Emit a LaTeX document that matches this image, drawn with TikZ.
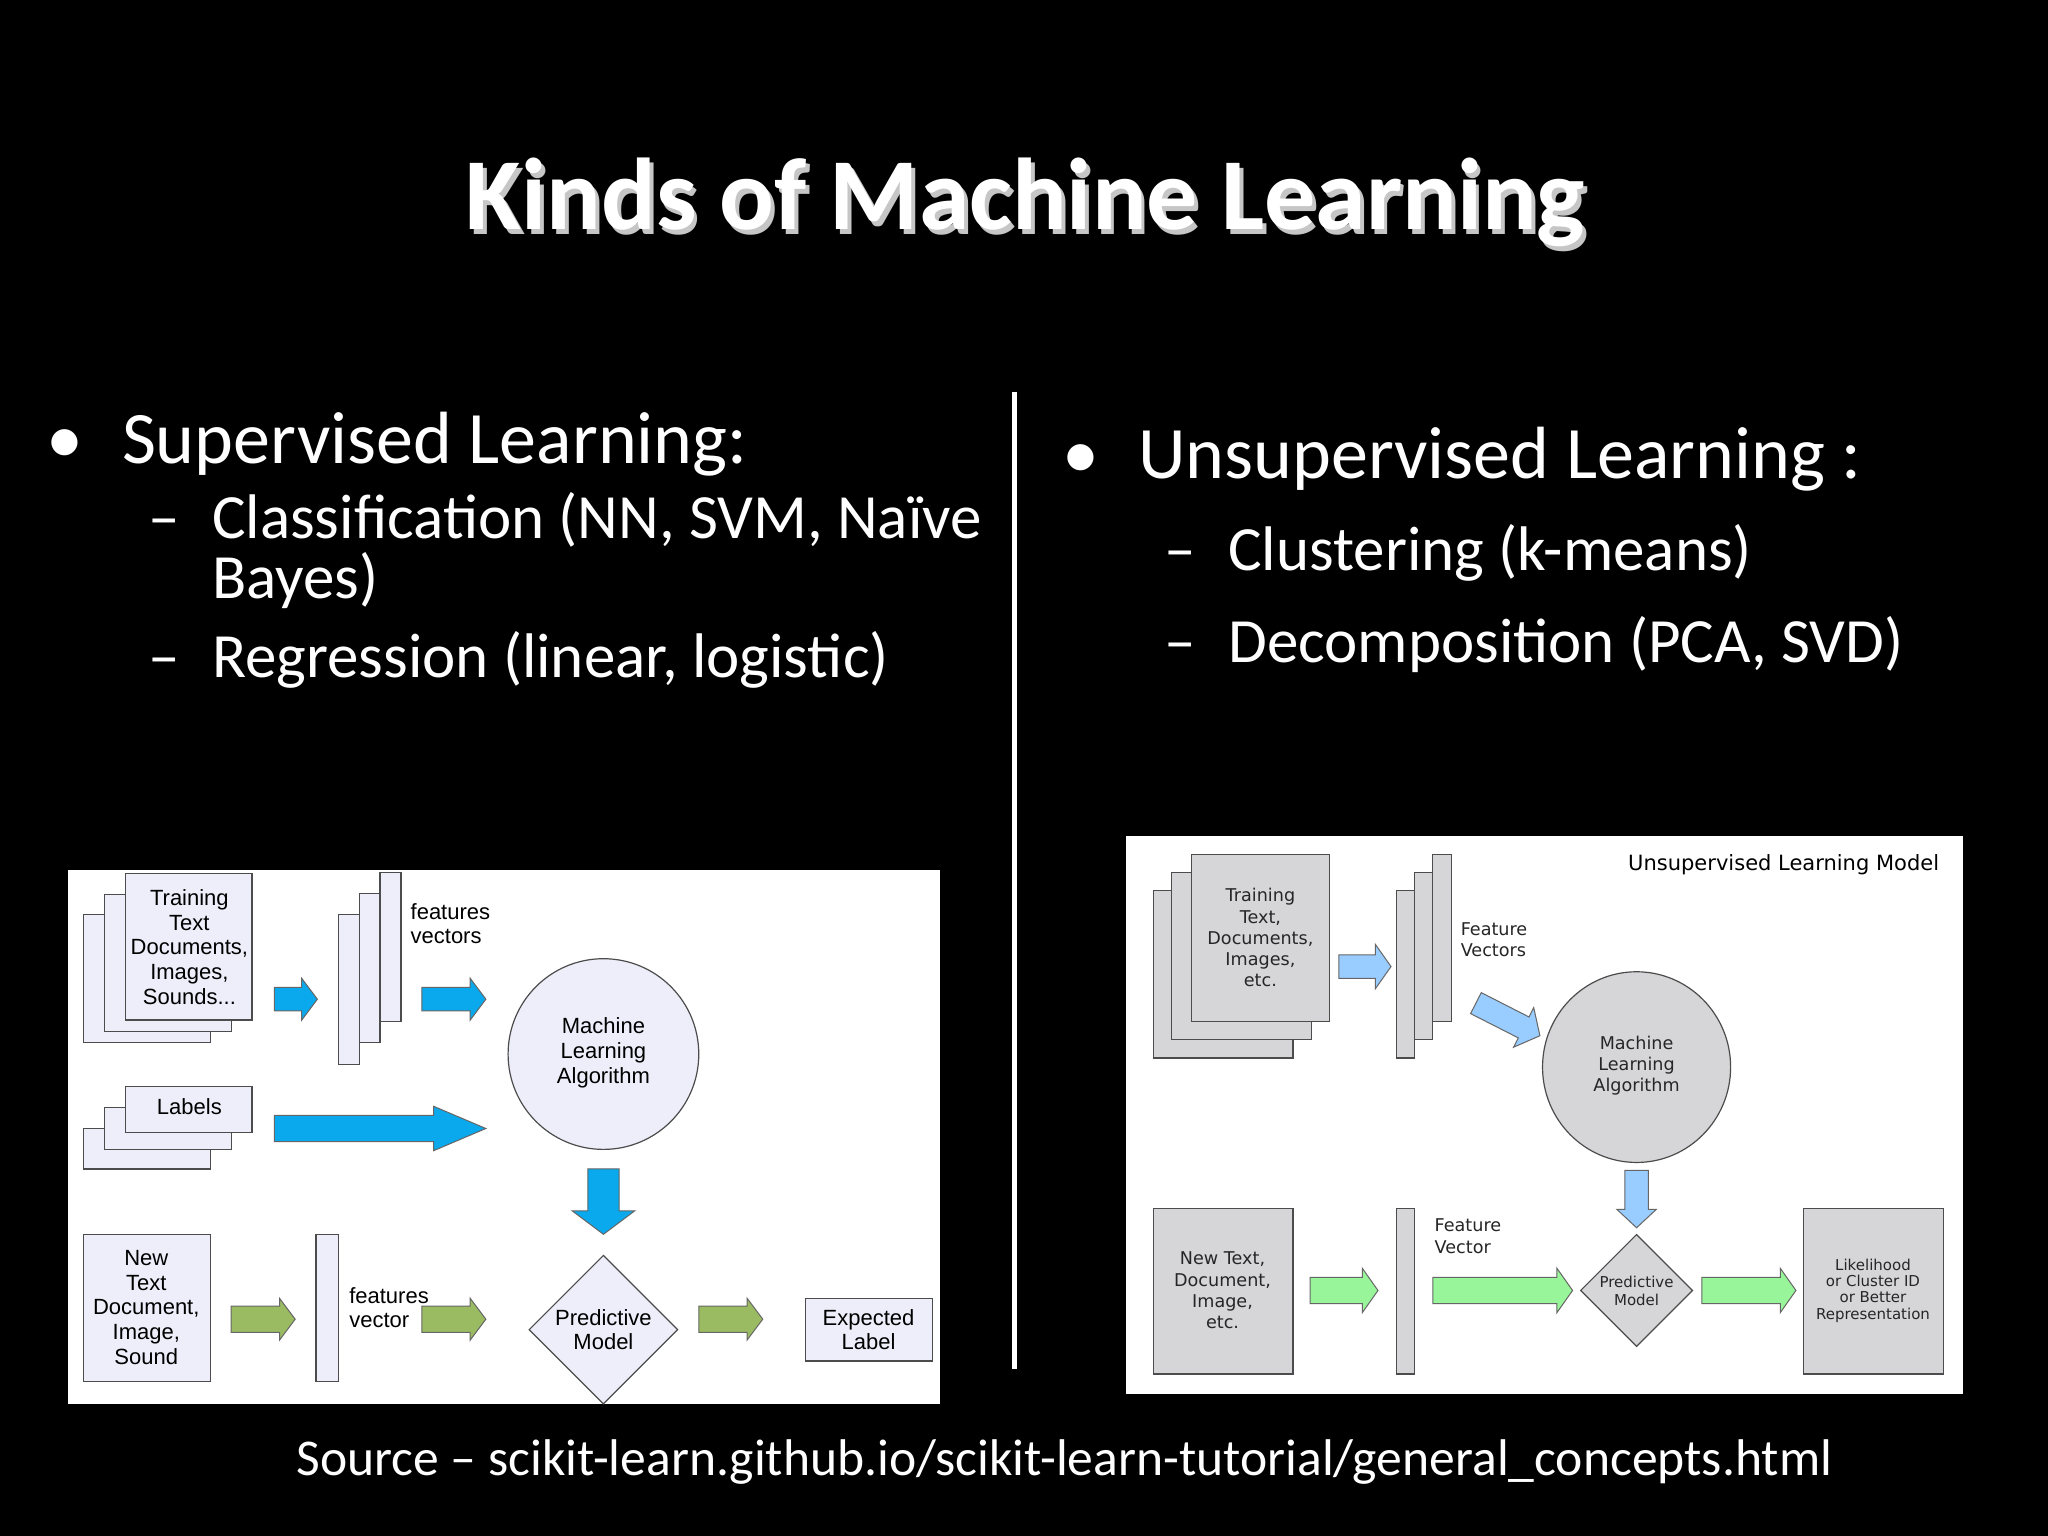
\documentclass[tikz,border=0pt]{standalone}
\usepackage{fontspec}
\setmainfont{Carlito}
\newfontfamily\arialf{Liberation Sans}
\newfontfamily\dejaf{DejaVu Sans}
\usetikzlibrary{shapes.geometric}
\definecolor{lav}{HTML}{EEEEFA}
\definecolor{bblue}{HTML}{0AA8EC}
\definecolor{bgreen}{HTML}{9BBB63}
\definecolor{lgray}{HTML}{D6D6D8}
\definecolor{lblue}{HTML}{99CCFF}
\definecolor{lgreen}{HTML}{99F599}
\newcommand\myharrow[7]{\filldraw[fill=#1,draw=black!60,line width=0.5pt] (#2,#4-#5) -- (#3-#7,#4-#5) -- (#3-#7,#4-#6) -- (#3,#4) -- (#3-#7,#4+#6) -- (#3-#7,#4+#5) -- (#2,#4+#5) -- cycle;}
\newcommand\myvarrow[7]{\filldraw[fill=#1,draw=black!60,line width=0.5pt] (#4-#5,#2) -- (#4-#5,#3-#7) -- (#4-#6,#3-#7) -- (#4,#3) -- (#4+#6,#3-#7) -- (#4+#5,#3-#7) -- (#4+#5,#2) -- cycle;}
\tikzset{
 lbox/.style={fill=lav,draw=black!70,line width=0.6pt},
 rbox/.style={fill=lgray,draw=black!70,line width=0.6pt},
 ltxt/.style={font=\arialf\fontsize{11}{12.3}\selectfont,align=center,text=black},
 rtxt/.style={font=\dejaf\fontsize{8.8}{10.6}\selectfont,align=center,text=black!85},
 slide/.style={text=white,anchor=base west}
}
\begin{document}
\begin{tikzpicture}[x=0.653pt,y=-0.653pt]
\fill[black] (0,0) rectangle (1568,1176);
\useasboundingbox (0,0) rectangle (1568,1176);
% title
\node[text=gray!45,font=\bfseries\fontsize{51}{55}\selectfont] (titles) at (788,159) {Kinds of Machine Learning};
\node[text=white,font=\bfseries\fontsize{51}{55}\selectfont] (title) at (785,155) {Kinds of Machine Learning};
% left text
\node[slide,font=\fontsize{37}{40}\selectfont] (b1) at (30,355) {•};
\node[slide,font=\fontsize{37}{40}\selectfont] (t1) at (88,355) {Supervised Learning:};
\node[slide,font=\fontsize{31.5}{36}\selectfont] (d1) at (108,412) {–};
\node[slide,font=\fontsize{31.5}{36}\selectfont] (t2) at (157,412) {Classification (NN, SVM, Naïve};
\node[slide,font=\fontsize{31.5}{36}\selectfont] (t3) at (157,458) {Bayes)};
\node[slide,font=\fontsize{31.5}{36}\selectfont] (d2) at (108,519) {–};
\node[slide,font=\fontsize{31.5}{36}\selectfont] (t4) at (157,519) {Regression (linear, logistic)};
\fill[white] (775,300) rectangle (779,1048);
% right text
\node[slide,font=\fontsize{37}{40}\selectfont] (b2) at (808,366) {•};
\node[slide,font=\fontsize{37}{40}\selectfont] (u1) at (866,366) {Unsupervised Learning :};
\node[slide,font=\fontsize{31.5}{36}\selectfont] (d3) at (886,437) {–};
\node[slide,font=\fontsize{31.5}{36}\selectfont] (u2) at (935,437) {Clustering (k-means)};
\node[slide,font=\fontsize{31.5}{36}\selectfont] (d4) at (886,507) {–};
\node[slide,font=\fontsize{31.5}{36}\selectfont] (u3) at (935,507) {Decomposition (PCA, SVD)};
\node[text=white,font=\fontsize{25.8}{30}\selectfont,anchor=base] (src) at (815,1130) {Source – scikit-learn.github.io/scikit-learn-tutorial/general\_concepts.html};
% ===== left diagram
\fill[white] (52,666) rectangle (720,1075);
\draw[lbox] (64,700) rectangle (161,798);
\draw[lbox] (80,685) rectangle (177,790);
\draw[lbox] (96,669) rectangle (193,781);
\node[ltxt] (train) at (145,725) {Training\\Text\\Documents,\\Images,\\Sounds...};
\myharrow{bblue}{210}{243}{765}{9}{16}{12}
\draw[lbox] (259,700) rectangle (275,815);
\draw[lbox] (275,684) rectangle (291,798);
\draw[lbox] (291,668) rectangle (307,782);
\node[ltxt,align=left,anchor=north west] (fv) at (309,686) {features\\vectors};
\myharrow{bblue}{323}{372}{765}{9}{16}{12}
\node[lbox,circle,minimum size=146pt*0.653] (mla) at (462,807) {};
\node[ltxt] (mlat) at (462,806) {Machine\\Learning\\Algorithm};
\draw[lbox] (64,864) rectangle (161,895);
\draw[lbox] (80,848) rectangle (177,880);
\draw[lbox] (96,832) rectangle (193,867);
\node[ltxt] (lab) at (145,847) {Labels};
\myharrow{bblue}{210}{372}{864}{10}{17}{40}
\myvarrow{bblue}{895}{945}{462}{12}{24}{18}
\draw[lbox] (64,945) rectangle (161,1058);
\node[ltxt] (newt) at (112,1001) {New\\Text\\Document,\\Image,\\Sound};
\myharrow{bgreen}{177}{226}{1010}{10}{16}{12}
\draw[lbox] (242,945) rectangle (259,1058);
\node[ltxt,align=left,anchor=north west] (fv2) at (262,980) {features\\vector};
\myharrow{bgreen}{323}{372}{1010}{10}{16}{12}
\node[lbox,diamond,minimum width=114pt*0.653,minimum height=114pt*0.653,inner sep=0pt] (pm) at (462,1018) {};
\node[ltxt] (pmt) at (462,1018) {Predictive\\Model};
\myharrow{bgreen}{535}{584}{1010}{10}{16}{12}
\draw[lbox] (617,994) rectangle (714,1042);
\node[ltxt] (exp) at (665,1018) {Expected\\Label};
% ===== right diagram
\fill[white] (862,640) rectangle (1503,1067);
\node[font=\dejaf\fontsize{10.5}{12}\selectfont,anchor=east] (umt) at (1490,662) {Unsupervised Learning Model};
\draw[rbox] (883,682) rectangle (990,810);
\draw[rbox] (897,668) rectangle (1004,796);
\draw[rbox] (912,654) rectangle (1018,782);
\node[rtxt] (rtrain) at (965,718) {Training\\Text,\\Documents,\\Images,\\etc.};
\myharrow{lblue}{1025}{1065}{740}{9}{17}{12}
\draw[rbox] (1069,682) rectangle (1083,810);
\draw[rbox] (1083,668) rectangle (1097,796);
\draw[rbox] (1097,654) rectangle (1111,782);
\node[rtxt,align=left,anchor=north west] (rfv) at (1113,701) {Feature\\Vectors};
\begin{scope}[shift={(1130,768)},rotate=-27]
\myharrow{lblue}{0}{55}{0}{9}{17}{14}
\end{scope}
\node[rbox,ellipse,minimum width=144pt*0.653,minimum height=146pt*0.653] (rmla) at (1253,817) {};
\node[rtxt] (rmlat) at (1253,816) {Machine\\Learning\\Algorithm};
\myvarrow{lblue}{896}{940}{1253}{9}{15}{14}
\node[rbox,diamond,minimum width=86pt*0.653,minimum height=86pt*0.653,inner sep=0pt] (rpm) at (1253,988) {};
\node[rtxt,font=\dejaf\fontsize{7.5}{9}\selectfont] (rpmt) at (1253,988) {Predictive\\Model};
\draw[rbox] (883,925) rectangle (990,1052);
\node[rtxt] (rnew) at (936,988) {New Text,\\Document,\\Image,\\etc.};
\myharrow{lgreen}{1003}{1055}{988}{10}{17}{12}
\draw[rbox] (1069,925) rectangle (1083,1052);
\node[rtxt,align=left,anchor=north west] (rfv2) at (1093,928) {Feature\\Vector};
\myharrow{lgreen}{1097}{1204}{988}{10}{17}{12}
\myharrow{lgreen}{1303}{1375}{988}{10}{17}{12}
\draw[rbox] (1381,925) rectangle (1488,1052);
\node[rtxt,font=\dejaf\fontsize{7.5}{8.2}\selectfont] (res) at (1434,988) {Likelihood\\or Cluster ID\\or Better\\Representation};
\end{tikzpicture}
\end{document}
